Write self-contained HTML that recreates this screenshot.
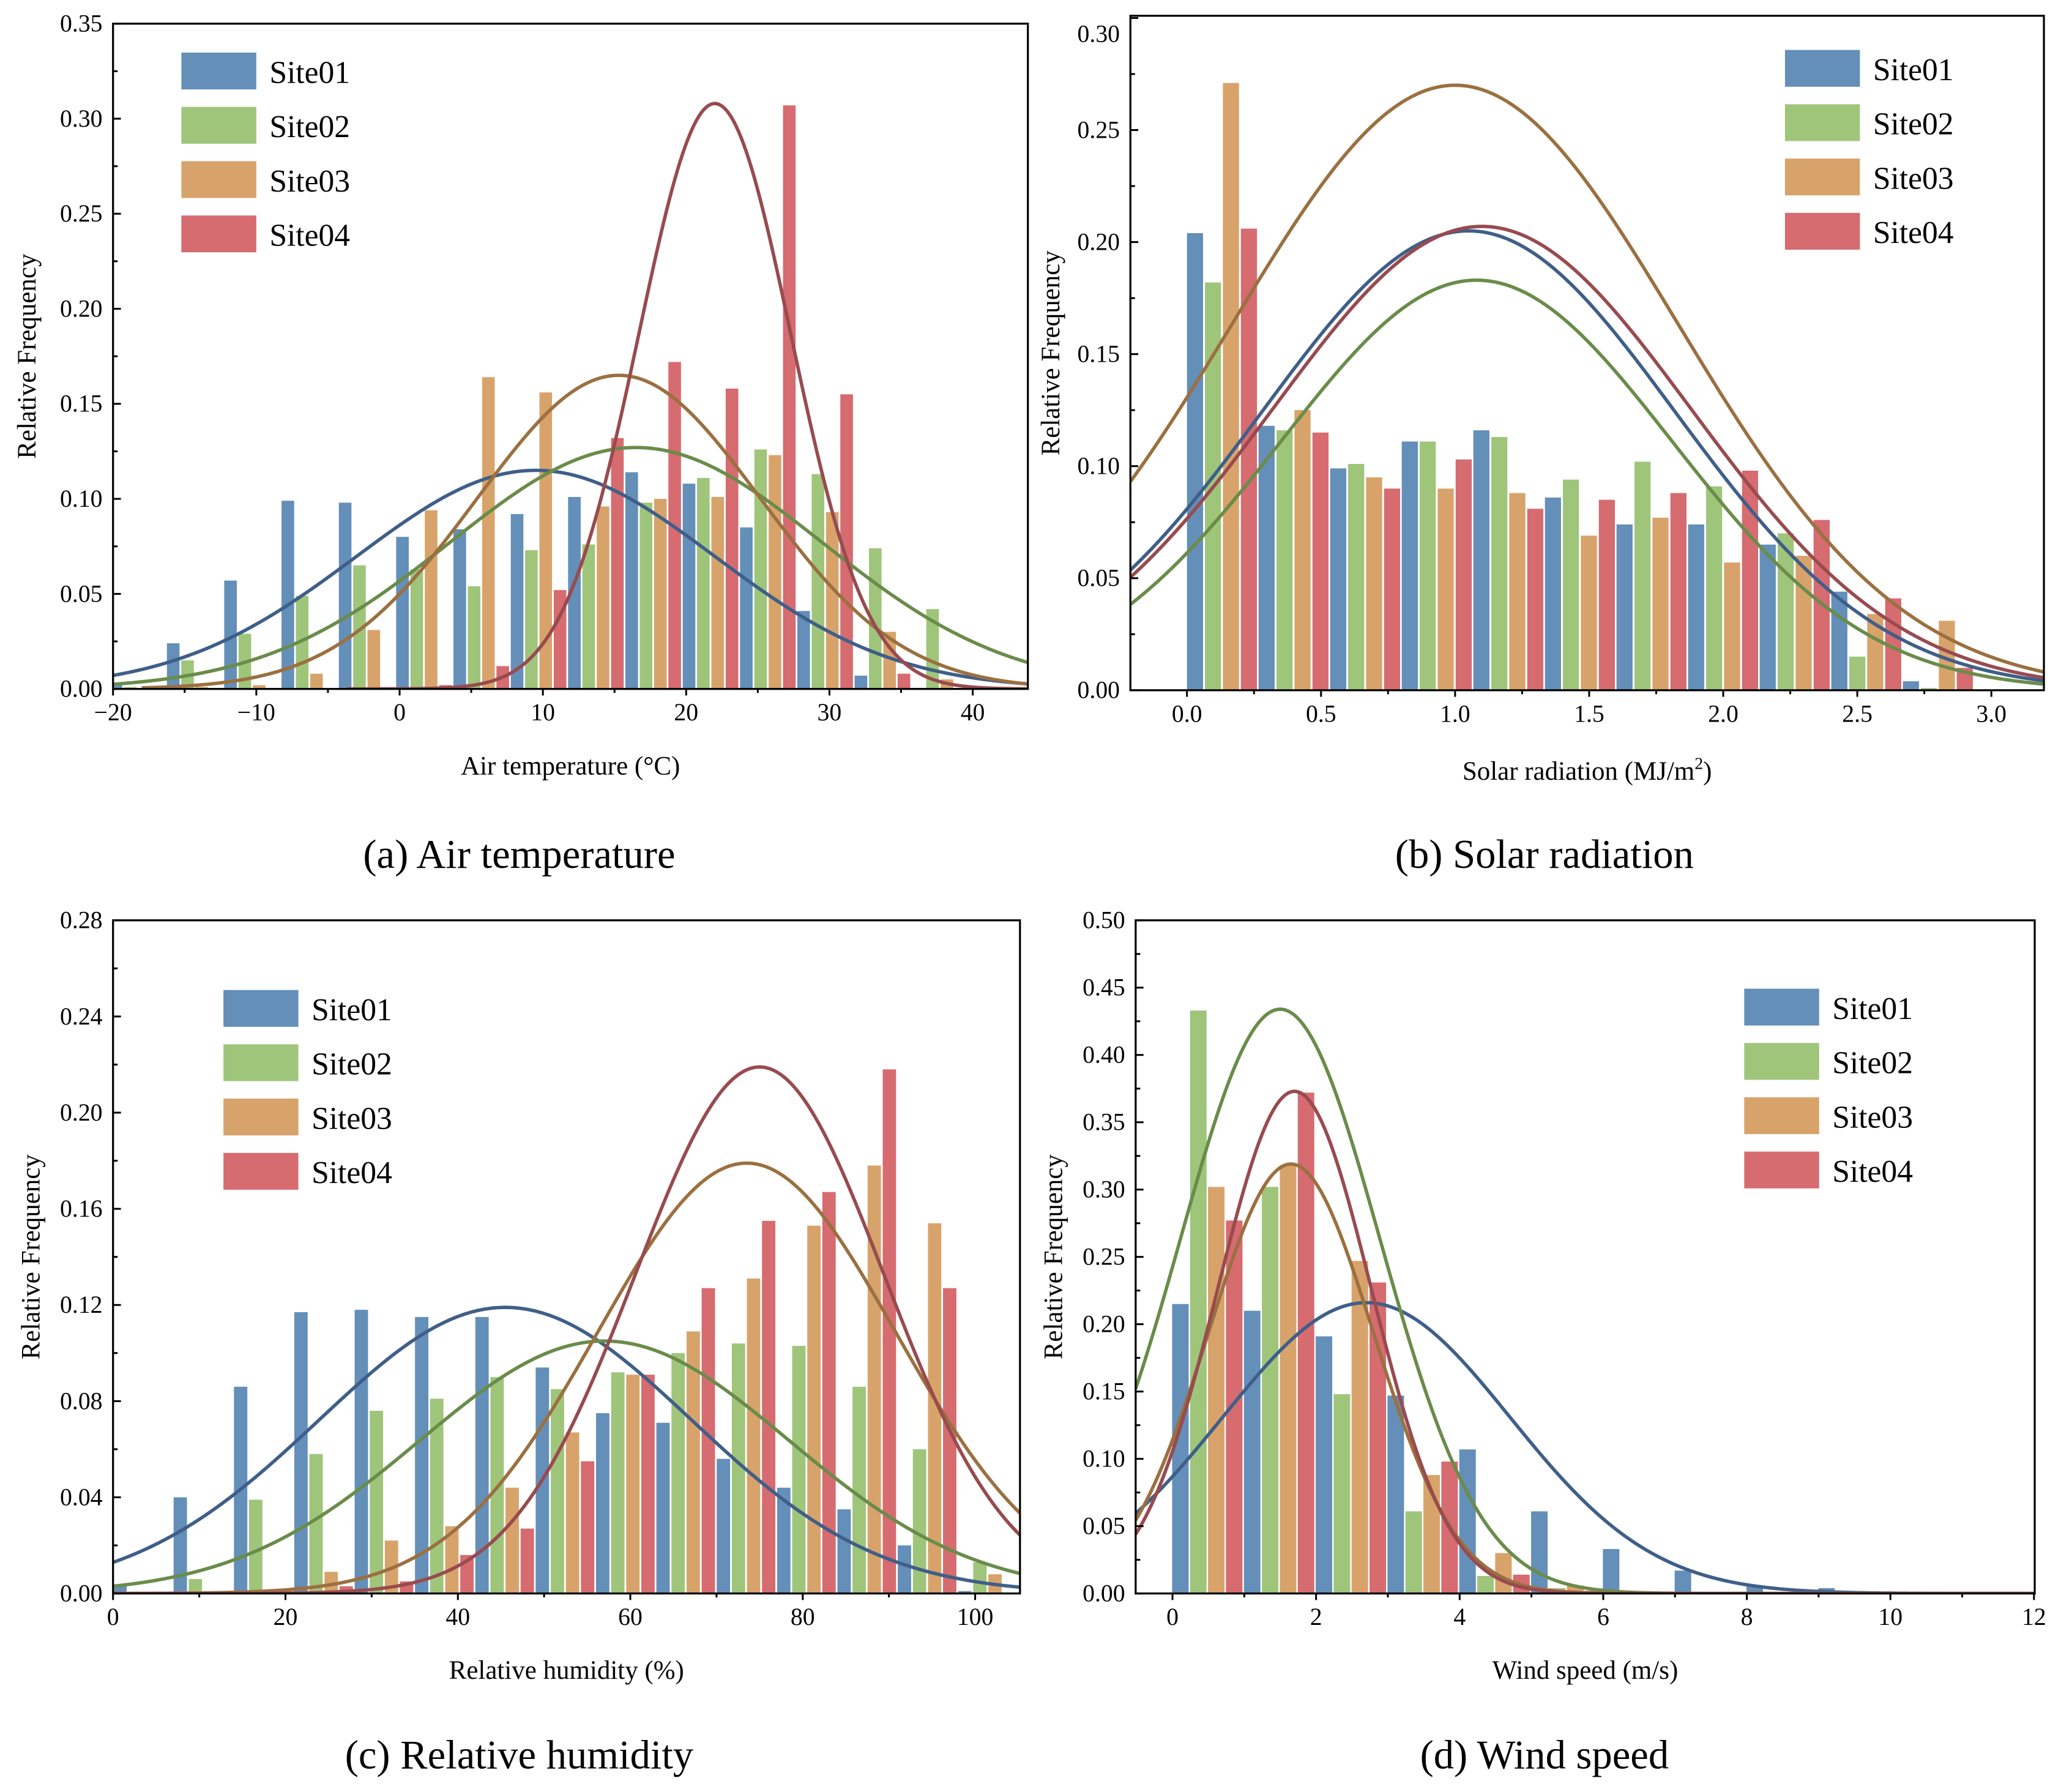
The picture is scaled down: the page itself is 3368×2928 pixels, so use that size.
<!DOCTYPE html>
<html><head><meta charset="utf-8"><style>
html,body{margin:0;padding:0;background:#fff}
svg{display:block}
svg text{font-family:"Liberation Serif","Times New Roman","DejaVu Serif",serif;fill:#000}
</style></head><body>
<svg id="fig" xmlns="http://www.w3.org/2000/svg" width="3368" height="2928" viewBox="0 0 1568 1363" preserveAspectRatio="none" font-family="Liberation Serif, Times New Roman, DejaVu Serif, serif">
<rect x="0" y="0" width="1568" height="1363" fill="#fff"/>
<text x="395" y="660" font-size="31" text-anchor="middle">(a) Air temperature</text>
<text x="1175" y="660" font-size="31" text-anchor="middle">(b) Solar radiation</text>
<text x="395" y="1345" font-size="31" text-anchor="middle">(c) Relative humidity</text>
<text x="1175" y="1345" font-size="31" text-anchor="middle">(d) Wind speed</text>
</svg>
<script>
// ---- Panel (a) Air temperature ----
const aSite01=[0.003,0.024,0.057,0.099,0.098,0.080,0.084,0.092,0.101,0.114,0.108,0.085,0.041,0.007,0];
const aSite02=[0.001,0.015,0.029,0.049,0.065,0.063,0.054,0.073,0.076,0.098,0.111,0.126,0.113,0.074,0.042];
const aSite03=[0,0.001,0.002,0.008,0.031,0.094,0.164,0.156,0.096,0.100,0.101,0.123,0.093,0.030,0.005];
const aSite04=[0,0,0,0,0,0.002,0.012,0.052,0.132,0.172,0.158,0.307,0.155,0.008,0];
const aMu=[9.5,16.5,15.3,22];
const aSigma=[12.5,13,9.9,5.3];
const aPeak=[0.115,0.127,0.165,0.308];
const aCurveStart=[-20,-20,-18,-3.7];
const aXTicks=[-20,-10,0,10,20,30,40];
const aYTicks=[0,0.05,0.10,0.15,0.20,0.25,0.30,0.35];
// ---- Panel (b) Solar radiation ----
const bSite01=[0.204,0.118,0.099,0.111,0.116,0.086,0.074,0.074,0.065,0.044,0.004];
const bSite02=[0.182,0.116,0.101,0.111,0.113,0.094,0.102,0.091,0.070,0.015,0.001];
const bSite03=[0.271,0.125,0.095,0.090,0.088,0.069,0.077,0.057,0.060,0.034,0.031];
const bSite04=[0.206,0.115,0.090,0.103,0.081,0.085,0.088,0.098,0.076,0.041,0.010];
const bMu=[1.05,1.08,1.0,1.1];
const bSigma=[0.77,0.73,0.83,0.78];
const bPeak=[0.205,0.183,0.270,0.207];
const bCurveStart=[-1,-1,-1,-1];
const bXTicks=[0,0.5,1.0,1.5,2.0,2.5,3.0];
const bYTicks=[0,0.05,0.10,0.15,0.20,0.25,0.30];
// ---- Panel (c) Relative humidity ----
const cSite01=[0.003,0.040,0.086,0.117,0.118,0.115,0.115,0.094,0.075,0.071,0.056,0.044,0.035,0.020,0.001];
const cSite02=[0,0.006,0.039,0.058,0.076,0.081,0.090,0.085,0.092,0.100,0.104,0.103,0.086,0.060,0.013];
const cSite03=[0,0,0,0.009,0.022,0.028,0.044,0.067,0.091,0.109,0.131,0.153,0.178,0.154,0.008];
const cSite04=[0,0,0,0.003,0.005,0.016,0.027,0.055,0.091,0.127,0.155,0.167,0.218,0.127,0];
const cMu=[45.5,57,73.5,75];
const cSigma=[21.6,21.4,17.3,14.4];
const cPeak=[0.119,0.105,0.179,0.219];
const cCurveStart=[0,0,0,0];
const cXTicks=[0,20,40,60,80,100];
const cYTicks=[0,0.04,0.08,0.12,0.16,0.20,0.24,0.28];
// ---- Panel (d) Wind speed ----
const dSite01=[0.215,0.210,0.191,0.147,0.107,0.061,0.033,0.017,0.006,0.004];
const dSite02=[0.433,0.302,0.148,0.061,0.013,0.004,0.001,0,0,0];
const dSite03=[0.302,0.318,0.247,0.088,0.030,0.006,0,0,0,0];
const dSite04=[0.277,0.372,0.231,0.098,0.014,0.002,0,0,0,0];
const dMu=[2.7,1.5,1.65,1.7];
const dSigma=[2.0,1.39,1.15,1.07];
const dPeak=[0.216,0.434,0.319,0.373];
const dCurveStart=[-1,-1,-1,-1];
const dXTicks=[0,2,4,6,8,10,12];
const dYTicks=[0,0.05,0.10,0.15,0.20,0.25,0.30,0.35,0.40,0.45,0.50];

const siteNames=['Site01','Site02','Site03','Site04'];
const barColors=['#638fb9','#9fc57b','#d8a36a','#d66b70'];
const lineColors=['#3f5f88','#6a8c4a','#9b7040','#984b4f'];
const NS='http://www.w3.org/2000/svg';
const svg=document.getElementById('fig');
function mk(tag,attrs,parent){const e=document.createElementNS(NS,tag);for(const k in attrs)e.setAttribute(k,attrs[k]);(parent||svg).appendChild(e);return e;}

function panel(p){
  const g=mk('g',{});
  
  
  const X=v=>p.L+(v-p.x0)/(p.x1-p.x0)*(p.R-p.L);
  const Y=v=>p.B-(v-p.y0)/(p.y1-p.y0)*(p.B-p.T);
  const clipId='clip-'+p.id;
  const cp=mk('clipPath',{id:clipId},g);
  mk('rect',{x:p.L,y:p.T,width:p.R-p.L,height:p.B-p.T},cp);
  p.series.forEach((arr,s)=>{
    arr.forEach((v,i)=>{
      if(v<=0)return;
      const c=p.start+i*p.step+s*p.offset;
      const r=mk('rect',{x:X(c-p.bw/2),y:Y(v),width:X(c+p.bw/2)-X(c-p.bw/2),height:Y(0)-Y(v),fill:barColors[s],'clip-path':'url(#'+clipId+')'},g);
      
      
    });
  });
  p.mu.forEach((m,s)=>{
    let d='';
    const xs0=Math.max(p.x0,p.cstart[s]);
    for(let k=0;k<=300;k++){
      const xv=xs0+(p.x1-xs0)*k/300;
      const yv=p.peak[s]*Math.exp(-Math.pow(xv-m,2)/(2*p.sigma[s]*p.sigma[s]));
      d+=(k?'L':'M')+X(xv).toFixed(2)+','+Y(yv).toFixed(2);
    }
    const path=mk('path',{d:d,fill:'none',stroke:lineColors[s],'stroke-width':2.6,'clip-path':'url(#'+clipId+')'},g);
    
    
  });
  const fr=mk('rect',{x:p.L,y:p.T,width:p.R-p.L,height:p.B-p.T,fill:'none',stroke:'#000','stroke-width':1.5},g);
  
  
  const xt=p.xTicks;
  const xs=xt[1]-xt[0];
  for(let v=xt[0]-xs;v<=xt[xt.length-1]+xs;v+=xs/2){
    const vv=Math.round(v*1000)/1000;
    if(vv<p.x0-1e-9||vv>p.x1+1e-9)continue;
    const major=xt.some(t=>Math.abs(t-vv)<1e-9);
    mk('line',{x1:X(vv),x2:X(vv),y1:p.B,y2:p.B+(major?5:3),stroke:'#000','stroke-width':1.4},g);
  }
  xt.forEach(t=>{
    const tx=mk('text',{x:X(t),y:p.B+24,'font-size':18.5,'text-anchor':'middle'},g);
    tx.textContent=p.xFmt(t).replace('-','\u2212');
    
    
  });
  const yt=p.yTicks;
  const ys=yt[1]-yt[0];
  for(let v=0;v<=p.y1+1e-9;v+=ys/2){
    const major=yt.some(t=>Math.abs(t-v)<1e-9);
    mk('line',{x1:p.L,x2:p.L+(major?6:3.5),y1:Y(v),y2:Y(v),stroke:'#000','stroke-width':1.4},g);
  }
  yt.forEach(t=>{
    let by=Y(t)+6;
    if(p.topLabelY && by<p.T+12) by=p.topLabelY;
    const tx=mk('text',{x:p.L-8,y:by,'font-size':18.5,'text-anchor':'end'},g);
    tx.textContent=t.toFixed(2);
    
    
  });
  const xtl=mk('text',{x:(p.L+p.R)/2,y:p.B+p.xTitleDy,'font-size':20,'text-anchor':'middle'},g);
  xtl.innerHTML=p.xTitle;
  
  
  const cy=(p.T+p.B)/2;
  const ytl=mk('text',{x:p.yTitleX,y:cy,'font-size':20,'text-anchor':'middle',transform:'rotate(-90 '+p.yTitleX+' '+cy+')'},g);
  ytl.textContent='Relative Frequency';
  
  
  siteNames.forEach((n,s)=>{
    const yy=p.legY+s*41.3;
    const r=mk('rect',{x:p.legX,y:yy,width:57,height:28,fill:barColors[s]},g);
    
    
    const t=mk('text',{x:p.legX+67,y:yy+23,'font-size':24},g);
    t.textContent=n;
    
    
  });
}

panel({id:'air-temp',L:86,R:782,T:18,B:524,x0:-20,x1:43.85,y0:0,y1:0.35,
  series:[aSite01,aSite02,aSite03,aSite04],start:-19.8,step:4,offset:1,bw:0.88,
  mu:aMu,sigma:aSigma,peak:aPeak,cstart:aCurveStart,xTicks:aXTicks,yTicks:aYTicks,xFmt:t=>String(t),
  xTitle:'Air temperature (°C)',xTitleDy:65,yTitleX:27,legX:138,legY:40});
panel({id:'solar-rad',L:860,R:1555,T:12,B:525,x0:-0.211,x1:3.196,y0:0,y1:0.301,topLabelY:32,
  series:[bSite01,bSite02,bSite03,bSite04],start:0.03,step:0.267,offset:0.067,bw:0.06,
  mu:bMu,sigma:bSigma,peak:bPeak,cstart:bCurveStart,xTicks:bXTicks,yTicks:bYTicks,xFmt:t=>t.toFixed(1),
  xTitle:'Solar radiation (MJ/m<tspan font-size="13" dy="-8">2</tspan><tspan dy="8">)</tspan>',xTitleDy:68,yTitleX:806,legX:1358,legY:38});
panel({id:'rel-humidity',L:86,R:776,T:700,B:1212,x0:0,x1:105.2,y0:0,y1:0.28,
  series:[cSite01,cSite02,cSite03,cSite04],start:0.8,step:7,offset:1.75,bw:1.55,
  mu:cMu,sigma:cSigma,peak:cPeak,cstart:cCurveStart,xTicks:cXTicks,yTicks:cYTicks,xFmt:t=>String(t),
  xTitle:'Relative humidity (%)',xTitleDy:65,yTitleX:30,legX:170,legY:753});
panel({id:'wind-speed',L:864,R:1548,T:700,B:1212,x0:-0.513,x1:12.01,y0:0,y1:0.5,
  series:[dSite01,dSite02,dSite03,dSite04],start:0.11,step:1,offset:0.25,bw:0.23,
  mu:dMu,sigma:dSigma,peak:dPeak,cstart:dCurveStart,xTicks:dXTicks,yTicks:dYTicks,xFmt:t=>String(t),
  xTitle:'Wind speed (m/s)',xTitleDy:65,yTitleX:808,legX:1327,legY:752});
</script>
</body></html>
